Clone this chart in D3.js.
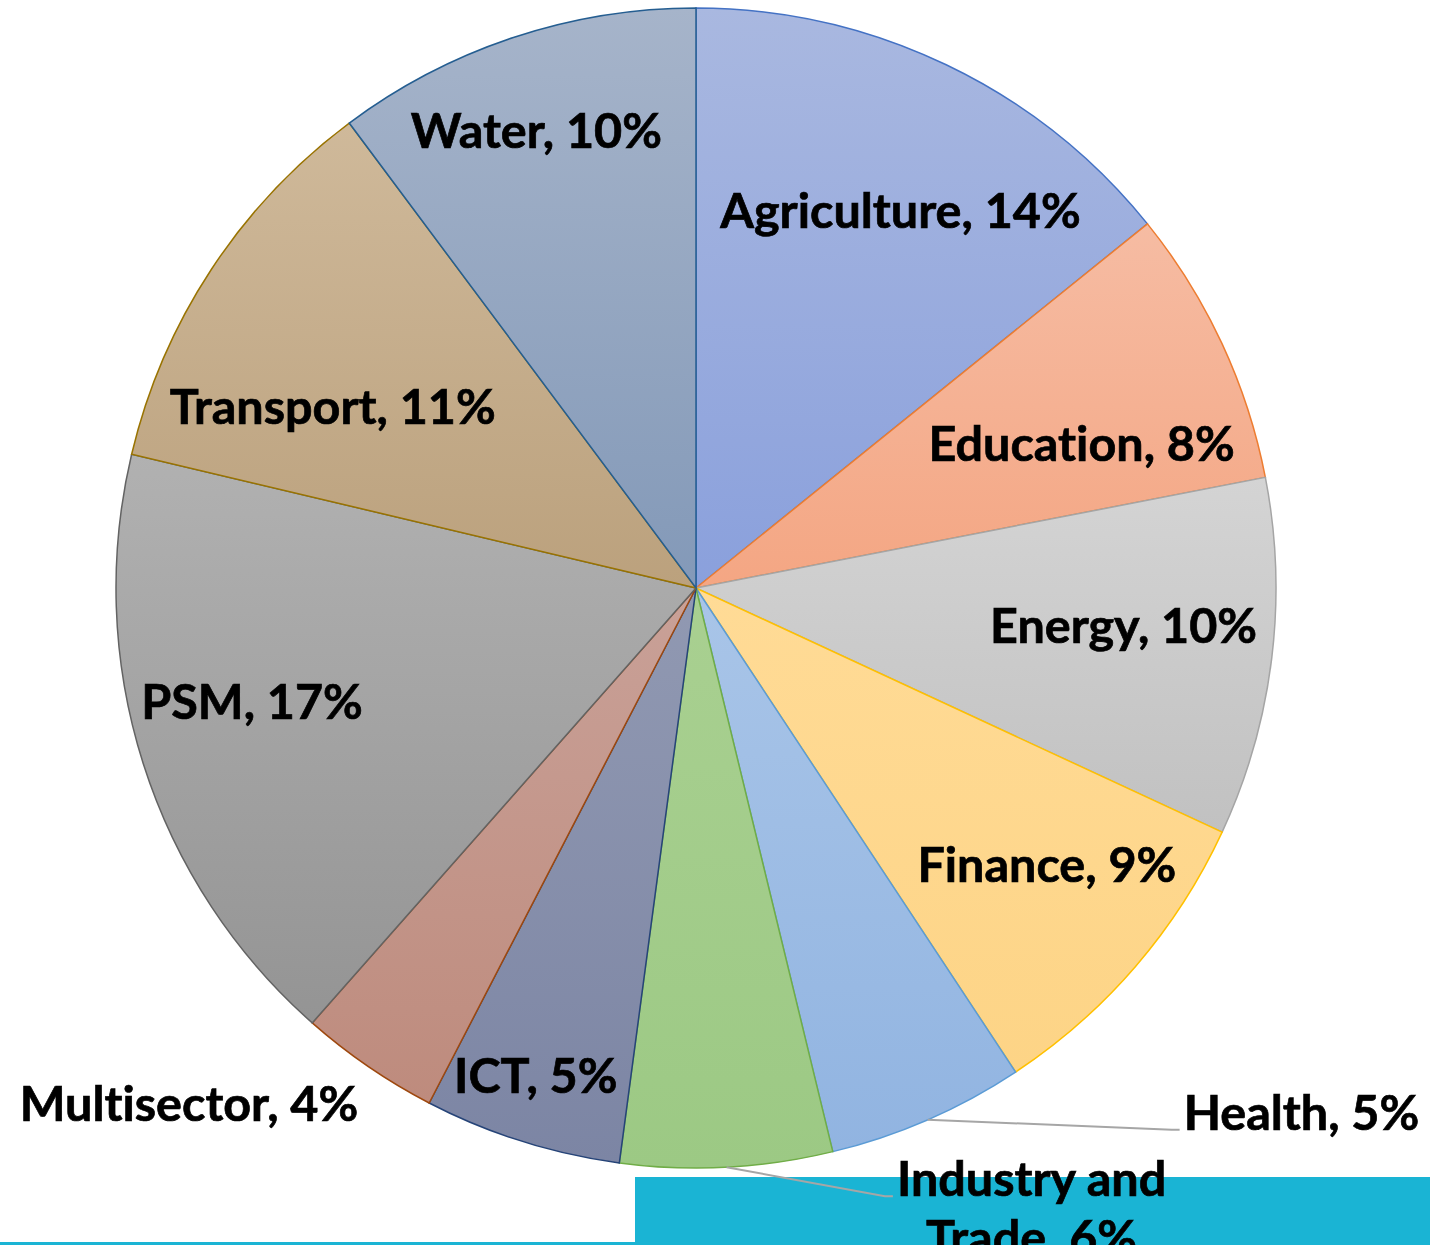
<!DOCTYPE html>
<html lang="en">
    <head>
        <meta charset="utf-8">
        <title>Portfolio by sector</title>
        <style>
            body { margin: 0; background: #fff; }
            .label {
                font-family: Lato, "Open Sans", sans-serif;
                font-weight: 700;
                font-size: 48.5px;
                font-variant-ligatures: none;
                fill: #000;
                stroke: #000;
                stroke-width: 0.7px;
            }
            .leader {
                fill: none;
                stroke: #a6a6a6;
                stroke-width: 2px;
            }
        </style>
    </head>
    <body>
        <script src="https://d3js.org/d3.v7.min.js"></script>
        <script type="text/javascript">

            // sectors, clockwise from 12 o'clock
            var sectors = ["Agriculture", "Education", "Energy", "Finance", "Health",
                           "Industry and Trade", "ICT", "Multisector", "PSM", "Transport", "Water"];

            // share of portfolio
            var shares = [14.2, 7.75, 9.97, 8.8, 5.5, 5.9, 5.5, 3.9, 17.2, 11.1, 10.2];

            // rounded percentages printed on the labels
            var labelPct = ["14%", "8%", "10%", "9%", "5%", "6%", "5%", "4%", "17%", "11%", "10%"];

            // slice outline colours and gradient fills (top, bottom)
            var strokeColors = ["#4472c4", "#ed7d31", "#a5a5a5", "#ffc000", "#5b9bd5", "#70ad47",
                                "#264478", "#9e480e", "#636363", "#997300", "#255e91"];
            var fillTop = ["#a9b8e0", "#f6bca3", "#d4d4d4", "#ffdb96", "#a9c5e8", "#a9d091",
                           "#9199b2", "#c9a198", "#b1b1b1", "#cfb99a", "#a6b4ca"];
            var fillBottom = ["#8aa0dc", "#f4a683", "#c1c1c1", "#fdd486", "#91b4e1", "#9cc984",
                              "#7c85a4", "#be8b7d", "#949494", "#bba17d", "#8399b8"];

            var width = 1430, height = 1245;
            var cx = 696, cy = 588, radius = 580;

            // label placement: inside labels as (fraction of radius, angle shift in deg),
            // outside labels relative to the point of the arc at the slice middle
            var labelLayout = {
                "Agriculture": {k: 0.74, shift: 2.9},
                "Education":   {k: 0.71, shift: 4.4},
                "Energy":      {k: 0.74, shift: -1.9},
                "Finance":     {k: 0.77, shift: -2.5},
                "ICT":         {k: 0.885, shift: 0.7},
                "PSM":         {k: 0.79, shift: 3.3},
                "Transport":   {k: 0.70, shift: -6.8},
                "Water":       {k: 0.835, shift: -0.9},
                "Multisector": {outside: true, dx: -10, dy: 54, anchor: "end"},
                "Health":      {outside: true, dx: 256, dy: 10, anchor: "start", leader: true},
                "Industry and Trade": {outside: true, dx: 305, dy: 29, anchor: "middle", leader: true,
                                       lines: ["Industry and", "Trade, "]}
            };

            var svg = d3.select("body")
                        .append("svg")
                        .attr("width", width)
                        .attr("height", height);

            var defs = svg.append("defs");

            var data = sectors.map(function(s, i) {
                return {name: s, value: shares[i], pct: labelPct[i], i: i};
            });

            data.forEach(function(d) {
                var g = defs.append("linearGradient")
                    .attr("id", "grad" + d.i)
                    .attr("x1", 0).attr("y1", 0)
                    .attr("x2", 0).attr("y2", 1);
                g.append("stop").attr("offset", "0%").attr("stop-color", fillTop[d.i]);
                g.append("stop").attr("offset", "100%").attr("stop-color", fillBottom[d.i]);
            });

            var pie = d3.pie()
                .sort(null)
                .value(d => d.value);

            var arc = d3.arc()
                .innerRadius(0)
                .outerRadius(radius);

            var arcs = pie(data);

            var chart = svg.append("g")
                .attr("transform", `translate(${cx},${cy})`);

            chart.selectAll("path.slice")
                .data(arcs)
                .enter()
                .append("path")
                    .attr("class", "slice")
                    .attr("d", arc)
                    .attr("fill", d => `url(#grad${d.data.i})`)
                    .attr("stroke", d => strokeColors[d.data.i])
                    .attr("stroke-width", 1.5);

            // cyan banner of the slide at the bottom
            svg.append("rect")
                .attr("x", 635).attr("y", 1177)
                .attr("width", width - 635).attr("height", height - 1177)
                .attr("fill", "#1ab4d4");
            svg.append("rect")
                .attr("x", 0).attr("y", 1242)
                .attr("width", 635).attr("height", 3)
                .attr("fill", "#1ab4d4");

            function polar(angle, r) {
                return [r * Math.sin(angle), -r * Math.cos(angle)];
            }

            var labels = svg.append("g")
                .attr("transform", `translate(${cx},${cy})`);

            arcs.forEach(function(d) {
                var lay = labelLayout[d.data.name];
                var mid = (d.startAngle + d.endAngle) / 2;

                if (!lay.outside) {
                    var p = polar(mid + lay.shift * Math.PI / 180, lay.k * radius);
                    labels.append("text")
                        .attr("class", "label")
                        .attr("x", p[0])
                        .attr("y", p[1])
                        .attr("dy", "0.36em")
                        .attr("text-anchor", "middle")
                        .text(d.data.name + ", " + d.data.pct);
                    return;
                }

                var edge = polar(mid, radius);
                var tx = edge[0] + lay.dx, ty = edge[1] + lay.dy;

                var t = labels.append("text")
                    .attr("class", "label")
                    .attr("x", tx)
                    .attr("y", ty)
                    .attr("text-anchor", lay.anchor);

                if (lay.lines) {
                    t.append("tspan").attr("x", tx).attr("dy", 0).text(lay.lines[0]);
                    t.append("tspan").attr("x", tx).attr("dy", "1.22em").text(lay.lines[1] + d.data.pct);
                } else {
                    t.text(d.data.name + ", " + d.data.pct);
                }

                if (lay.leader) {
                    // leader runs to the left end of the first line, at its baseline
                    var first = lay.lines ? t.select("tspan").node() : t.node();
                    var w = first.getComputedTextLength();
                    var left = lay.anchor === "middle" ? tx - w / 2 : tx;
                    labels.insert("polyline", "text")
                        .attr("class", "leader")
                        .attr("points", [edge, [left - 12, ty], [left - 4, ty]]
                                        .map(q => q.join(",")).join(" "));
                }
            });

        </script>
    </body>
</html>
